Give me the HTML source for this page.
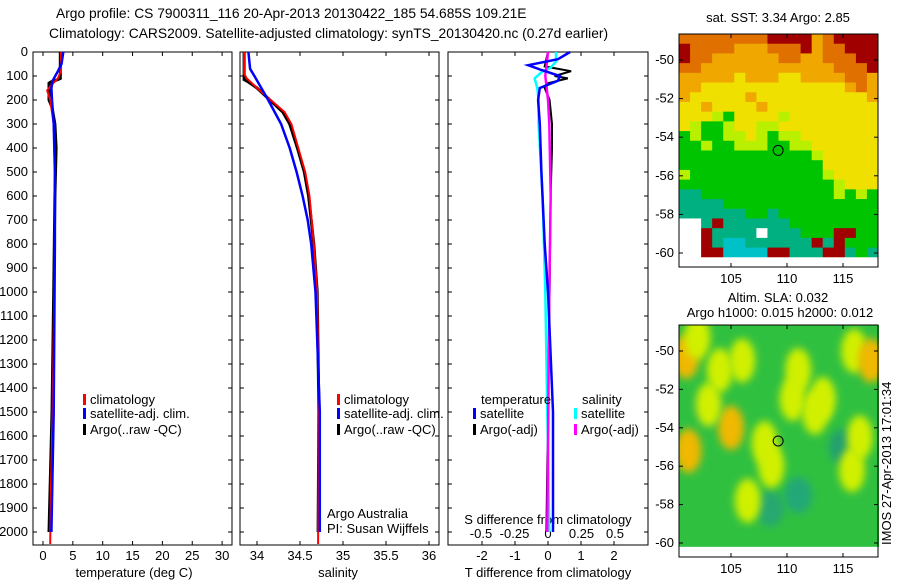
<!DOCTYPE html>
<html><head><meta charset="utf-8"><style>
body{margin:0;background:#fff;width:900px;height:580px;overflow:hidden}
svg text{font-family:"Liberation Sans",sans-serif;font-size:13px;fill:#000}
</style></head><body>
<svg id="c" width="900" height="580" xmlns="http://www.w3.org/2000/svg">
<defs><filter id="bl" x="-50%" y="-50%" width="200%" height="200%"><feGaussianBlur stdDeviation="4"/></filter>
<clipPath id="cpB"><rect x="679" y="325" width="200" height="232"/></clipPath></defs>
<text x="56" y="18" style="font-size:13.8px">Argo profile: CS 7900311_116 20-Apr-2013 20130422_185 54.685S 109.21E</text>
<text x="49" y="38" style="font-size:13.8px">Climatology: CARS2009. Satellite-adjusted climatology: synTS_20130420.nc (0.27d earlier)</text>
<g id="g"></g>
</svg>
<script>
// ---- data ----
const depthTicks=[0,100,200,300,400,500,600,700,800,900,1000,1100,1200,1300,1400,1500,1600,1700,1800,1900,2000];
const tempTicks=[0,5,10,15,20,25,30];
const salTicks=[34,34.5,35,35.5,36];
const tdTicks=[-2,-1,0,1,2];
const sdTicks=[-0.5,-0.25,0,0.25,0.5];
const sdTickLabels=["-0.5","-0.25","0","0.25","0.5"];
const tArgoD=[0,110,115,125,130,200,230,300,400,500,600,1000,1500,1900,2000];
const tArgoV=[2.9,2.9,2.5,1.3,1.0,1.0,1.5,2.0,2.2,2.1,2.0,1.8,1.5,1.1,1.0];
const tClimD=[0,80,110,140,160,200,300,500,1000,1500,1850,2050];
const tClimV=[3.0,3.0,2.5,1.3,0.7,1.2,1.8,2.0,1.9,1.6,1.3,1.2];
const tSatD=[0,50,80,120,150,200,300,500,800,1500,2000];
const tSatV=[3.4,3.1,2.5,1.6,1.4,1.5,1.8,2.0,2.0,1.8,1.4];
const sArgoD=[0,115,125,150,200,250,300,400,500,600,800,1000,1500,2000];
const sArgoV=[33.85,33.85,33.9,34.0,34.15,34.3,34.38,34.47,34.55,34.6,34.66,34.7,34.72,34.71];
const sClimD=[0,90,110,150,250,300,400,500,600,800,1000,1500,2050];
const sClimV=[33.85,33.85,33.88,34.0,34.32,34.4,34.48,34.56,34.61,34.66,34.7,34.72,34.71];
const sSatD=[0,70,100,150,200,300,400,500,600,700,800,1000,1500,2000];
const sSatV=[33.9,33.92,33.97,34.05,34.13,34.28,34.38,34.46,34.53,34.59,34.63,34.68,34.73,34.73];
const dTSatD=[0,30,55,75,100,120,150,200,300,500,800,1000,1500,2000];
const dTSatV=[0.67,0.3,-0.6,-0.2,0.36,0.3,-0.25,-0.3,-0.25,-0.2,-0.1,0,0.15,0.15];
const dTArgoD=[0,60,80,100,110,130,150,200,300,400,600,1000,1500,2000];
const dTArgoV=[0,-0.1,0.7,0.2,0.6,0,-0.1,0.05,0.12,0.12,0.08,0.05,0,-0.05];
const dSSatD=[0,40,65,85,110,150,200,300,600,1000,2000];
const dSSatV=[0.06,0.06,0.02,-0.05,-0.1,-0.08,-0.07,-0.07,-0.04,-0.02,0.01];
const dSArgoD=[0,50,100,150,200,300,600,1000,2000];
const dSArgoV=[0,-0.01,-0.02,-0.01,0,0.01,0.02,0.01,-0.005];
const latTicks=[-50,-52,-54,-56,-58,-60];
const lonTicks=[105,110,115];
const sstRows=["OOOOOOOORRRRoORRRR","ROOOOoooOOORoOORRR","ROOooooooOOooOOORR","OOooooooooooooOOOR","oooooYoooYYooooOOo","ooYYYYYYYYYYYYYoOo","oYYYYYoYYYYYYYYYYo","YYoYYYYoYYYYYYYYYY","YYYyGYYYYyYYYYYYYY","YyGGyYYyyYYYYYYYYY","GyGGyyYyGyyYYYYYYY","GGyGGyyyGGyyYYYYYY","GGGGGGGGGGGGyYYYYY","GGGGGGGGGGGGGYYYYY","yGGGGGGGGGGGGyYYYY","GGGGGGGGGGGGGGyYYY","TTGGGGGGGGGGGGyGyG","TTTTGGGGGGGGGGGGGG","TTTTTTGGTGGGGGGGGG","WWTRTTTTTTGGGGGGGG","WWRTTTTWTTTGGGRRGG","WWRTCCTTTTTTRTRGGG","WWRRCCCCRRTTTRRTGT","WWWWWWWWWWWWWWWWWW"];
const slaBlobLon=[101,101.2,105,103,104,108,111,112.5,116,117.5,116.5,106.5,115.8,113.2,102,108.6,110.5,106];
const slaBlobLat=[-50.3,-55.2,-54,-52.8,-51,-54.8,-51,-53.2,-50,-50.5,-54.5,-57.8,-56.2,-52.5,-49.3,-56,-52.5,-50.5];
const slaBlobVal=[2,2,2,1,1,1,1,1,1,2,1,1,1,1,1,1,1,1];
const argoLon=109.21, argoLat=-54.685;

const G=document.getElementById('g');const NS="http://www.w3.org/2000/svg";
function mk(t,a,p){const e=document.createElementNS(NS,t);for(const k in a)e.setAttribute(k,a[k]);(p||G).appendChild(e);return e;}
const yD=d=>52+d*0.24;
const T0=33,T1=232,P2a=240,P2b=439,P3a=448,P3b=648,TOP=52,BOT=545;
const xT=v=>43+v*5.97, xS=v=>257+(v-34)*86, xDT=v=>548+v*33, xDS=v=>548+v*134;
function box(x0,x1,name){const r=mk('rect',{x:x0,y:TOP,width:x1-x0,height:BOT-TOP,fill:'none',stroke:'#000','stroke-width':1});}
box(T0,T1,'temperature-panel');box(P2a,P2b,'salinity-panel');box(P3a,P3b,'difference-panel');
depthTicks.forEach(d=>{const y=yD(d);
 [[T0,T1],[P2a,P2b],[P3a,P3b]].forEach(([a,b])=>{mk('line',{x1:a,x2:a+4,y1:y,y2:y,stroke:'#000'});mk('line',{x1:b-4,x2:b,y1:y,y2:y,stroke:'#000'});});
 const t=mk('text',{x:28,y:y+4,'text-anchor':'end'});t.textContent=d;
 });
function xticks(arr,f,labels,ly,name){arr.forEach((v,i)=>{const x=f(v);mk('line',{x1:x,x2:x,y1:TOP,y2:TOP+4,stroke:'#000'});mk('line',{x1:x,x2:x,y1:BOT-4,y2:BOT,stroke:'#000'});
 const t=mk('text',{x:x,y:ly,'text-anchor':'middle'});t.textContent=labels?labels[i]:v;});}
xticks(tempTicks,xT,null,560,'temperature-tick-label');
xticks(salTicks,xS,null,560,'salinity-tick-label');
xticks(tdTicks,xDT,null,560,'t-diff-tick-label');
sdTicks.forEach((v,i)=>{const t=mk('text',{x:xDS(v),y:538,'text-anchor':'middle'});t.textContent=sdTickLabels[i];});
function lab(x,y,s,name,anc,extra){const t=mk('text',Object.assign({x:x,y:y,'text-anchor':anc||'start'},extra||{}));t.textContent=s;return t;}
lab(134,577,'temperature (deg C)','temperature-axis-title','middle');
lab(338,577,'salinity','salinity-axis-title','middle');
lab(548,577,'T difference from climatology','t-diff-axis-title','middle');
lab(548,524,'S difference from climatology','s-diff-axis-title','middle');
function line(D,V,fx,col,w,name){const p=D.map((d,i)=>fx(V[i]).toFixed(1)+','+yD(d).toFixed(1)).join(' ');
 const e=mk('polyline',{points:p,fill:'none',stroke:col,'stroke-width':w});}
line(tArgoD,tArgoV,xT,'#000',3,'temp-argo-line');line(tClimD,tClimV,xT,'#f00',2,'temp-climatology-line');line(tSatD,tSatV,xT,'#00f',2.5,'temp-satellite-line');
line(sArgoD,sArgoV,xS,'#000',3,'sal-argo-line');line(sClimD,sClimV,xS,'#f00',2,'sal-climatology-line');line(sSatD,sSatV,xS,'#00f',2.5,'sal-satellite-line');
line(dTArgoD,dTArgoV,xDT,'#000',2,'tdiff-argo-line');line(dSSatD,dSSatV,xDS,'#0ff',2.5,'sdiff-satellite-line');line(dSArgoD,dSArgoV,xDS,'#f0f',2.5,'sdiff-argo-line');line(dTSatD,dTSatV,xDT,'#00f',2.5,'tdiff-satellite-line');
function leg(x,y,col,s,name){mk('rect',{x:x,y:y-10,width:3,height:11,fill:col});lab(x+7,y,s,name);}
leg(83,404,'#f00','climatology','legend-climatology');leg(83,418,'#00f','satellite-adj. clim.','legend-satellite');leg(83,434,'#000','Argo(..raw -QC)','legend-argo');
leg(337,404,'#f00','climatology','legend-sal-climatology');leg(337,418,'#00f','satellite-adj. clim.','legend-sal-satellite');leg(337,434,'#000','Argo(..raw -QC)','legend-sal-argo');
lab(481,404,'temperature','legend-temperature-heading');lab(582,404,'salinity','legend-salinity-heading');
leg(473,418,'#00f','satellite','legend-tdiff-satellite');leg(473,434,'#000','Argo(-adj)','legend-tdiff-argo');
leg(574,418,'#0ff','satellite','legend-sdiff-satellite');leg(574,434,'#f0f','Argo(-adj)','legend-sdiff-argo');
lab(327,518,'Argo Australia','credit-line-1');lab(327,533,'PI: Susan Wijffels','credit-line-2');
const MX0=679,MX1=878;const mlon=v=>731+(v-105)*11.2;
const cmap={R:'#a00000',O:'#e07000',o:'#f0a800',Y:'#f0e000',y:'#b8f000',G:'#00c400',T:'#00b080',C:'#00c0c8',W:'#ffffff'};
function mapAxes(top,bot,latY,name){
 latTicks.forEach(l=>{const y=latY(l);mk('line',{x1:MX0,x2:MX0+4,y1:y,y2:y,stroke:'#000'});mk('line',{x1:MX1-4,x2:MX1,y1:y,y2:y,stroke:'#000'});lab(674,y+4,l,name+'-lat-label','end');});
 lonTicks.forEach(l=>{const x=mlon(l);mk('line',{x1:x,x2:x,y1:top,y2:top+4,stroke:'#000'});mk('line',{x1:x,x2:x,y1:bot-4,y2:bot,stroke:'#000'});lab(x,bot+16,l,name+'-lon-label','middle');});
 const r=mk('rect',{x:MX0,y:top,width:MX1-MX0,height:bot-top,fill:'none',stroke:'#000'});
 const c=mk('circle',{cx:mlon(argoLon),cy:latY(argoLat),r:5,fill:'none',stroke:'#000'});}
const latA=v=>60+(-50-v)*19.3;const cw=(MX1-MX0)/18,ch=(267-34)/24;
sstRows.forEach((row,r)=>{[...row].forEach((k,c)=>{const e=mk('rect',{x:(MX0+c*cw).toFixed(2),y:(34+r*ch).toFixed(2),width:(cw+0.5).toFixed(2),height:(ch+0.5).toFixed(2),fill:cmap[k]});});});
mapAxes(34,267,latA,'sst-map');
lab(778,22,'sat. SST: 3.34  Argo: 2.85','sst-map-title','middle');
const latB=v=>351+(-50-v)*19.2;
const slaG=mk('g',{'clip-path':'url(#cpB)'});
mk('rect',{x:MX0,y:325,width:200,height:latB(-60.2)-325,fill:'#30c040'},slaG);
[[115,-55,'#20a070'],[111,-57.5,'#20a878'],[108.5,-58.2,'#28a870'],[103,-53,'#28b060']].forEach(b=>mk('ellipse',{cx:mlon(b[0]),cy:latB(b[1]),rx:14,ry:18,fill:b[2],filter:'url(#bl)'},slaG));
slaBlobLon.forEach((lo,i)=>{const e=mk('ellipse',{cx:mlon(lo),cy:latB(slaBlobLat[i]),rx:13,ry:22,fill:slaBlobVal[i]>1?'#f0b800':'#d0f000',filter:'url(#bl)'},slaG);});
mapAxes(325,557,latB,'sla-map');
lab(778,302,'Altim. SLA: 0.032','sla-map-title-1','middle');lab(780,317,'Argo h1000: 0.015 h2000: 0.012','sla-map-title-2','middle');
lab(0,0,'IMOS 27-Apr-2013 17:01:34','imos-timestamp','start',{transform:'translate(891,545) rotate(-90)'});
</script>
</body></html>
